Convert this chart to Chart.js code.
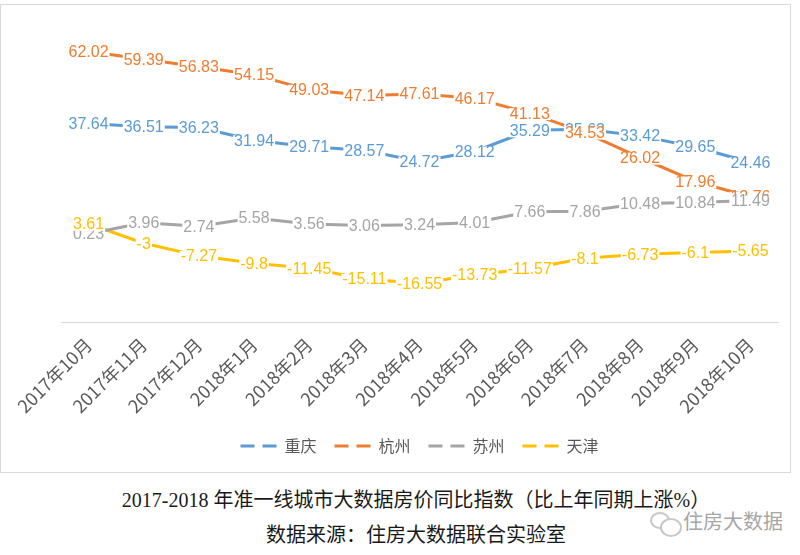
<!DOCTYPE html>
<html lang="zh-CN">
<head>
    <meta charset="UTF-8">
    <title>2017-2018年准一线城市大数据房价同比指数</title>
    <script src="https://cdn.jsdelivr.net/npm/chart.js"></script>
    <style>
        body { margin: 0; background: #fff; width: 800px; height: 555px; position: relative; overflow: hidden; }
        .frame {
            position: absolute; left: 0; top: 4px; width: 791px; height: 469px;
            border: 1px solid #d9d9d9; box-sizing: border-box;
        }
        .caption {
            position: absolute; left: 0; width: 832px; text-align: center; color: #1a1a1a;
            font-family: "Liberation Serif", "Noto Sans CJK SC", serif;
        }
        .title { top: 484px; font-size: 20px; }
        .source { top: 519px; font-size: 20px; }
        .mark {
            position: absolute; left: 683px; top: 506px; color: #a6a6a6;
            font-family: "Noto Sans CJK SC", sans-serif; font-size: 20px;
        }
        .bubble { position: absolute; border: 2px solid #c8c8c8; border-radius: 50%; }
    </style>
</head>
<body>
    <div class="frame"><canvas id="chart"></canvas></div>
    <div class="caption title">2017-2018 年准一线城市大数据房价同比指数（比上年同期上涨%）</div>
    <div class="caption source">数据来源：住房大数据联合实验室</div>
    <div class="bubble" style="left:650px;top:512px;width:16px;height:13px;"></div>
    <div class="bubble" style="left:660px;top:518px;width:18px;height:15px;background:#fff;"></div>
    <div class="mark">住房大数据</div>

    <script>
        // 数据
        const months = ['2017年10月', '2017年11月', '2017年12月', '2018年1月', '2018年2月', '2018年3月',
            '2018年4月', '2018年5月', '2018年6月', '2018年7月', '2018年8月', '2018年9月', '2018年10月'];
        const chongqing = [37.64, 36.51, 36.23, 31.94, 29.71, 28.57, 24.72, 28.12, 35.29, 35.63, 33.42, 29.65, 24.46];
        const hangzhou = [62.02, 59.39, 56.83, 54.15, 49.03, 47.14, 47.61, 46.17, 41.13, 34.53, 26.02, 17.96, 12.76];
        const suzhou = [0.23, 3.96, 2.74, 5.58, 3.56, 3.06, 3.24, 4.01, 7.66, 7.86, 10.48, 10.84, 11.49];
        const tianjin = [3.61, -3, -7.27, -9.8, -11.45, -15.11, -16.55, -13.73, -11.57, -8.1, -6.73, -6.1, -5.65];

        const colors = ['#5B9BD5', '#ED7D31', '#A5A5A5', '#FFC000'];

        function serie(nome, valores, cor) {
            return {
                label: nome,
                data: valores,
                borderColor: cor,
                backgroundColor: cor,
                borderWidth: 3,
                pointRadius: 0,
                tension: 0
            };
        }

        // rótulos de dados com fundo branco, desenhados série por série
        const rotulos = {
            id: 'rotulos',
            afterDatasetsDraw(chart) {
                const ctx = chart.ctx;
                ctx.save();
                ctx.font = '16px "Liberation Sans", Arial, sans-serif';
                ctx.textAlign = 'center';
                ctx.textBaseline = 'middle';
                chart.data.datasets.forEach((ds, i) => {
                    const meta = chart.getDatasetMeta(i);
                    meta.data.forEach((pt, j) => {
                        const txt = String(ds.data[j]);
                        const w = ctx.measureText(txt).width;
                        ctx.fillStyle = '#fff';
                        ctx.fillRect(pt.x - w / 2 - 1, pt.y - 5, w + 2, 12);
                        ctx.fillStyle = ds.borderColor;
                        ctx.fillText(txt, pt.x, pt.y + 1);
                    });
                });
                ctx.restore();
            }
        };

        new Chart(document.getElementById('chart'), {
            type: 'line',
            data: {
                labels: months,
                datasets: [
                    serie('重庆', chongqing, colors[0]),
                    serie('杭州', hangzhou, colors[1]),
                    serie('苏州', suzhou, colors[2]),
                    serie('天津', tianjin, colors[3])
                ]
            },
            options: {
                responsive: true,
                maintainAspectRatio: false,
                animation: false,
                layout: { padding: { left: 60, right: 12, top: 23, bottom: 8 } },
                scales: {
                    x: {
                        offset: true,
                        grid: { display: false },
                        border: { color: '#d9d9d9', width: 1 },
                        ticks: {
                            color: '#595959',
                            minRotation: 45,
                            maxRotation: 45,
                            autoSkip: false,
                            font: { family: '"Noto Sans CJK SC", sans-serif', size: 18 }
                        }
                    },
                    y: { display: false, min: -30, max: 70 }
                },
                plugins: {
                    tooltip: { enabled: false },
                    legend: {
                        position: 'bottom',
                        labels: {
                            color: '#595959',
                            font: { family: '"Noto Sans CJK SC", sans-serif', size: 16 },
                            boxWidth: 36,
                            boxHeight: 0,
                            padding: 18,
                            generateLabels(chart) {
                                return chart.data.datasets.map((ds, i) => ({
                                    text: ds.label,
                                    fillStyle: 'transparent',
                                    strokeStyle: ds.borderColor,
                                    lineWidth: 3,
                                    lineDash: [14, 8, 14, 100],
                                    fontColor: '#595959',
                                    datasetIndex: i
                                }));
                            }
                        }
                    }
                }
            },
            plugins: [rotulos]
        });
    </script>
</body>
</html>
